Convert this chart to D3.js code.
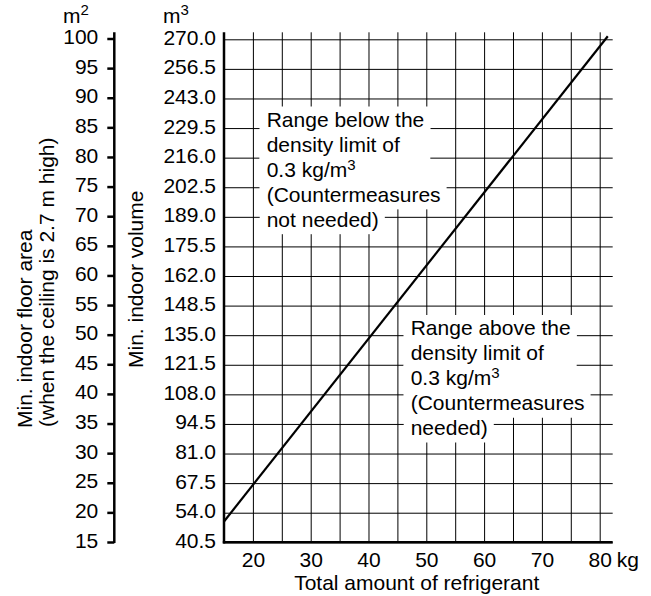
<!DOCTYPE html>
<meta charset="utf-8">
<style>
body {
  margin: 0;
  background: #fff;
}
text {
  font-family: "Liberation Sans", Arial, sans-serif;
  font-size: 21px;
  fill: #000;
}
.grid line {
  stroke: #000;
  stroke-width: 1;
}
</style>
<body>
<div id="chart"></div>
<script src="https://d3js.org/d3.v7.min.js"></script>
<script>
// density limit line (kg -> m3)
var refrigerant = [15, 81.4];
var volume = [50, 271.4];

var kgTicks = [20, 30, 40, 50, 60, 70, 80];
var kgGrid = [20, 25, 30, 35, 40, 45, 50, 55, 60, 65, 70, 75, 80];
var volumeTicks = [40.5, 54.0, 67.5, 81.0, 94.5, 108.0, 121.5, 135.0, 148.5, 162.0,
                   175.5, 189.0, 202.5, 216.0, 229.5, 243.0, 256.5, 270.0];
var areaTicks = [15, 20, 25, 30, 35, 40, 45, 50, 55, 60, 65, 70, 75, 80, 85, 90, 95, 100];

// "^" marks a superscript
var belowLines = ["Range below the", "density limit of", "0.3 kg/m^3", "(Countermeasures", "not needed)"];
var aboveLines = ["Range above the", "density limit of", "0.3 kg/m^3", "(Countermeasures", "needed)"];

var W = 651, H = 596;
var plotLeft = 224, plotRight = 612.7, plotTop = 39.3, plotBottom = 542.3, gridTop = 32.3;

var svg = d3.select("#chart").append("svg")
    .attr("width", W)
    .attr("height", H);

var x = d3.scaleLinear().domain([15, 82.25]).range([plotLeft, plotRight]);
var y = d3.scaleLinear().domain([40.5, 270]).range([plotBottom, plotTop]);
var area = d3.scaleLinear().domain([15, 100]).range([542, 38.5]);

// grid
svg.append("g")
    .attr("class", "grid")
    .attr("transform", "translate(0," + plotBottom + ")")
    .call(d3.axisBottom(x).tickValues(kgGrid).tickSize(-(plotBottom - gridTop)).tickFormat(""))
    .call(function(g) { g.select(".domain").remove(); });

svg.append("g")
    .attr("class", "grid")
    .attr("transform", "translate(" + plotLeft + ",0)")
    .call(d3.axisLeft(y).tickValues(volumeTicks).tickSize(-(plotRight - plotLeft)).tickFormat(""))
    .call(function(g) { g.select(".domain").remove(); });

// annotation boxes, white behind the text
function annotate(lines, tx, baseline0) {
  var g = svg.append("g");
  var block = g.append("rect").attr("fill", "#fff");
  var widths = [];
  lines.forEach(function(line, i) {
    var by = baseline0 + i * 25;
    var rect = g.append("rect").attr("fill", "#fff");
    var t = g.append("text").attr("x", tx).attr("y", by);
    var parts = line.split("^");
    t.append("tspan").text(parts[0]);
    if (parts.length > 1) {
      t.append("tspan")
          .attr("font-size", "15px")
          .attr("dy", -7)
          .text(parts[1]);
    }
    var w = t.node().getComputedTextLength();
    widths.push(w);
    rect.attr("x", tx - 7)
        .attr("y", by - 20)
        .attr("width", w + 13)
        .attr("height", 27.5);
  });
  // the upper part of the box is one block as wide as its first lines
  block.attr("x", tx - 7)
      .attr("y", baseline0 - 20)
      .attr("width", d3.max(widths.slice(0, 3)) + 13)
      .attr("height", 3 * 25 + 27.5);
}
annotate(belowLines, 266.7, 126.7);
annotate(aboveLines, 410.7, 335);

// volume labels
svg.append("g")
    .attr("transform", "translate(" + plotLeft + ",0)")
    .call(d3.axisLeft(y).tickValues(volumeTicks).tickSize(0).tickPadding(8).tickFormat(d3.format(".1f")))
    .call(function(g) {
      g.select(".domain").remove();
      g.selectAll("text").attr("dy", "0.24em").style("font-size", "21px").style("font-family", null);
    });

// kg labels
svg.append("g")
    .attr("transform", "translate(0," + plotBottom + ")")
    .call(d3.axisBottom(x).tickValues(kgTicks).tickSize(0).tickPadding(10))
    .call(function(g) {
      g.select(".domain").remove();
      g.selectAll("text").attr("dy", "0.68em").style("font-size", "21px").style("font-family", null);
    });

// floor area axis
svg.append("g")
    .attr("transform", "translate(114.3,0)")
    .call(d3.axisLeft(area).tickValues(areaTicks).tickSize(7).tickPadding(9))
    .call(function(g) {
      g.select(".domain").remove();
      g.selectAll("line").attr("stroke-width", 2.5);
      g.selectAll("text").attr("dy", "0.24em").style("font-size", "21px").style("font-family", null);
    });

svg.append("line")
    .attr("x1", 114.3).attr("x2", 114.3)
    .attr("y1", gridTop).attr("y2", 543)
    .attr("stroke", "#000").attr("stroke-width", 2.5);

// main frame lines
svg.append("line")
    .attr("x1", plotLeft).attr("x2", plotLeft)
    .attr("y1", gridTop).attr("y2", plotBottom + 1.2)
    .attr("stroke", "#000").attr("stroke-width", 2.5);
svg.append("line")
    .attr("x1", plotLeft - 1.2).attr("x2", plotRight)
    .attr("y1", plotBottom).attr("y2", plotBottom)
    .attr("stroke", "#000").attr("stroke-width", 2.5);

// density limit line
var pts = refrigerant.map(function(d, i) { return [d, volume[i]]; });
svg.append("path")
    .datum(pts)
    .attr("fill", "none")
    .attr("stroke", "#000")
    .attr("stroke-width", 2.2)
    .attr("d", d3.line()
      .x(function(d) { return x(d[0]); })
      .y(function(d) { return y(d[1]); }));

// units
function unit(tx, base, sup) {
  var t = svg.append("text").attr("x", tx).attr("y", 23);
  t.append("tspan").text(base);
  t.append("tspan").attr("font-size", "15px").attr("dy", -8).text(sup);
}
unit(63, "m", "2");
unit(163, "m", "3");

svg.append("text")
    .attr("x", 616.7).attr("y", 566.5)
    .text("kg");

svg.append("text")
    .attr("x", 416.7).attr("y", 590)
    .attr("text-anchor", "middle")
    .text("Total amount of refrigerant");

// rotated axis titles
svg.append("text")
    .attr("transform", "translate(32,428) rotate(-90)")
    .text("Min. indoor floor area");
svg.append("text")
    .attr("transform", "translate(54,427) rotate(-90)")
    .text("(when the ceiling is 2.7 m high)");
svg.append("text")
    .attr("transform", "translate(143,368) rotate(-90)")
    .text("Min. indoor volume");
</script>
</body>
